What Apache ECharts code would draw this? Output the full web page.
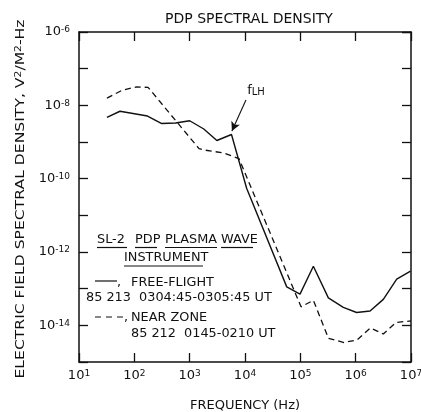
<!DOCTYPE html>
<html><head><meta charset="utf-8">
<script src="https://cdn.jsdelivr.net/npm/echarts@6/dist/echarts.min.js"></script>
<style>html,body{margin:0;padding:0;background:#fff}#c{width:421px;height:412px}</style>
</head><body><div id="c"></div>
<script>
// ---- data ----
const freeFlightFreq = [32, 55, 173, 307, 555, 1000, 1800, 3100, 5700, 10700, 56800, 98600, 172000, 321000, 598000, 1040000, 1820000, 3160000, 5520000, 9800000];
const freeFlightDensity = [4.7e-9, 6.9e-9, 5.1e-9, 3.2e-9, 3.3e-9, 3.8e-9, 2.26e-9, 1.1e-9, 1.6e-9, 5.5e-11, 1.12e-13, 7.1e-14, 4.1e-13, 5.6e-14, 3.1e-14, 2.24e-14, 2.45e-14, 5.1e-14, 1.82e-13, 3.0e-13];
const nearZoneFreq = [32, 60, 107, 177, 1475, 1890, 4180, 7800, 103000, 172000, 323000, 615000, 1060000, 1850000, 3160000, 5360000, 10000000];
const nearZoneDensity = [1.58e-8, 2.57e-8, 3.16e-8, 3.1e-8, 6.6e-10, 6.0e-10, 5.0e-10, 3.5e-10, 3.2e-14, 4.8e-14, 4.4e-15, 3.4e-15, 4.0e-15, 8.5e-15, 5.8e-15, 1.2e-14, 1.32e-14];
const xTickExponents = [1, 2, 3, 4, 5, 6, 7];
const yLabelExponents = [-6, -8, -10, -12, -14];
const fLHLabelAt = [15800, 2.46e-8];
const fLHArrow = [[10400, 1.4e-8], [5800, 2.0e-9]];

const FONT = 'DejaVu Sans';
const INK = '#111';
const chart = echarts.init(document.getElementById('c'), null, {renderer: 'canvas'});

const supRich = {
  b: {fontSize: 13, lineHeight: 13, fontFamily: FONT, color: INK, verticalAlign: 'bottom'},
  s: {fontSize: 9, lineHeight: 9, fontFamily: FONT, color: INK, padding: [0, 0, 6, 0], verticalAlign: 'top'}
};
function expOf(v) { return Math.round(Math.log10(v)); }

const tickStyle = {show: true, inside: true, length: 9, lineStyle: {color: INK, width: 1.3}};
const lineAxis = {show: true, lineStyle: {color: INK, width: 1.5}};
const SX = 1.07;

function txt(x, y, s, size) {
  return {type: 'text', x: x, y: y, scaleX: SX, style: {text: s, font: (size || 12) + 'px "' + FONT + '"', fill: INK, textVerticalAlign: 'middle', textAlign: 'left'}};
}
function hline(x1, x2, y, dash) {
  return {type: 'line', shape: {x1: x1, y1: y, x2: x2, y2: y}, style: {stroke: INK, lineWidth: 1.2, lineDash: dash || null}};
}

const option = {
  backgroundColor: '#fff',
  animation: false,
  title: {text: 'PDP SPECTRAL DENSITY', left: 244, top: 7, textAlign: 'center',
    textStyle: {fontFamily: FONT, fontSize: 14, fontWeight: 'normal', color: INK}},
  grid: {left: 79, right: 10, top: 32, bottom: 50, containLabel: false, outerBoundsMode: 'none'},
  xAxis: [{
    type: 'log', logBase: 10, min: 10, max: 1e7, interval: 1,
    name: 'FREQUENCY (Hz)', nameLocation: 'middle', nameGap: 37,
    nameTextStyle: {fontFamily: FONT, fontSize: 13, color: INK},
    axisLine: lineAxis, axisTick: tickStyle, splitLine: {show: false},
    axisLabel: {margin: 7, formatter: v => xTickExponents.includes(expOf(v)) ? '{b|10}{s|' + expOf(v) + '}' : '', rich: supRich}
  }, {
    type: 'log', logBase: 10, min: 10, max: 1e7, interval: 1, position: 'top',
    axisLine: lineAxis, axisTick: tickStyle, axisLabel: {show: false}, splitLine: {show: false}
  }],
  yAxis: [{
    type: 'log', logBase: 10, min: 1e-15, max: 1e-6, interval: 1,
    axisLine: lineAxis, axisTick: tickStyle, splitLine: {show: false},
    axisLabel: {margin: 9, formatter: v => yLabelExponents.includes(expOf(v)) ? '{b|10}{s|' + expOf(v) + '}' : '', rich: supRich}
  }, {
    type: 'log', logBase: 10, min: 1e-15, max: 1e-6, interval: 1, position: 'right',
    axisLine: lineAxis, axisTick: tickStyle, axisLabel: {show: false}, splitLine: {show: false}
  }],
  series: [{
    name: 'FREE-FLIGHT', type: 'line', symbol: 'none', silent: true,
    data: freeFlightFreq.map((f, i) => [f, freeFlightDensity[i]]),
    lineStyle: {color: INK, width: 1.4},
    markPoint: {silent: true, symbol: 'circle', symbolSize: 0, data: [{coord: fLHLabelAt}],
      label: {show: true, position: 'inside', formatter: '{f|f}{s|LH}', rich: {
        f: {fontFamily: FONT, fontSize: 13, lineHeight: 13, color: INK, verticalAlign: 'top'},
        s: {fontFamily: FONT, fontSize: 10, lineHeight: 10, color: INK, padding: [4, 0, 0, 0], verticalAlign: 'bottom'}
      }}},
    markLine: {silent: true, symbol: ['none', 'arrow'], symbolSize: [7, 9], label: {show: false},
      lineStyle: {color: INK, width: 1.1, type: 'solid'}, emphasis: {disabled: true},
      data: [[{coord: fLHArrow[0]}, {coord: fLHArrow[1]}]]}
  }, {
    name: 'NEAR ZONE', type: 'line', symbol: 'none', silent: true,
    data: nearZoneFreq.map((f, i) => [f, nearZoneDensity[i]]),
    lineStyle: {color: INK, width: 1.3, type: [6, 4]}
  }],
  graphic: [
    {type: 'text', x: 21, y: 199, rotation: Math.PI / 2, scaleX: 1.2,
      style: {text: '{a|ELECTRIC FIELD SPECTRAL DENSITY, V}{s|2}{a|/M}{s|2}{a|-Hz}',
        textAlign: 'center', textVerticalAlign: 'middle', fill: INK,
        rich: {
          a: {fontFamily: FONT, fontSize: 13, lineHeight: 13, fill: INK, verticalAlign: 'bottom'},
          s: {fontFamily: FONT, fontSize: 9, lineHeight: 9, fill: INK, padding: [0, 0, 6, 0], verticalAlign: 'top'}
        }}},
    txt(97, 240, 'SL-2'), txt(135, 240, 'PDP'), txt(165, 240, 'PLASMA'), txt(221, 240, 'WAVE'),
    hline(97, 127, 247.5), hline(135, 157, 247.5), hline(165, 217, 247.5), hline(221, 253, 247.5),
    txt(124, 258, 'INSTRUMENT'), hline(124, 203, 266),
    hline(95, 117, 281), txt(117, 283, ','), txt(131, 283, 'FREE-FLIGHT'),
    txt(86, 298, '85 213  0304:45-0305:45 UT'),
    hline(95, 123, 317, [6, 5]), txt(124, 318, ','), txt(131, 318, 'NEAR ZONE'),
    txt(131, 334, '85 212  0145-0210 UT')
  ]
};
chart.setOption(option);
</script>
</body></html>
